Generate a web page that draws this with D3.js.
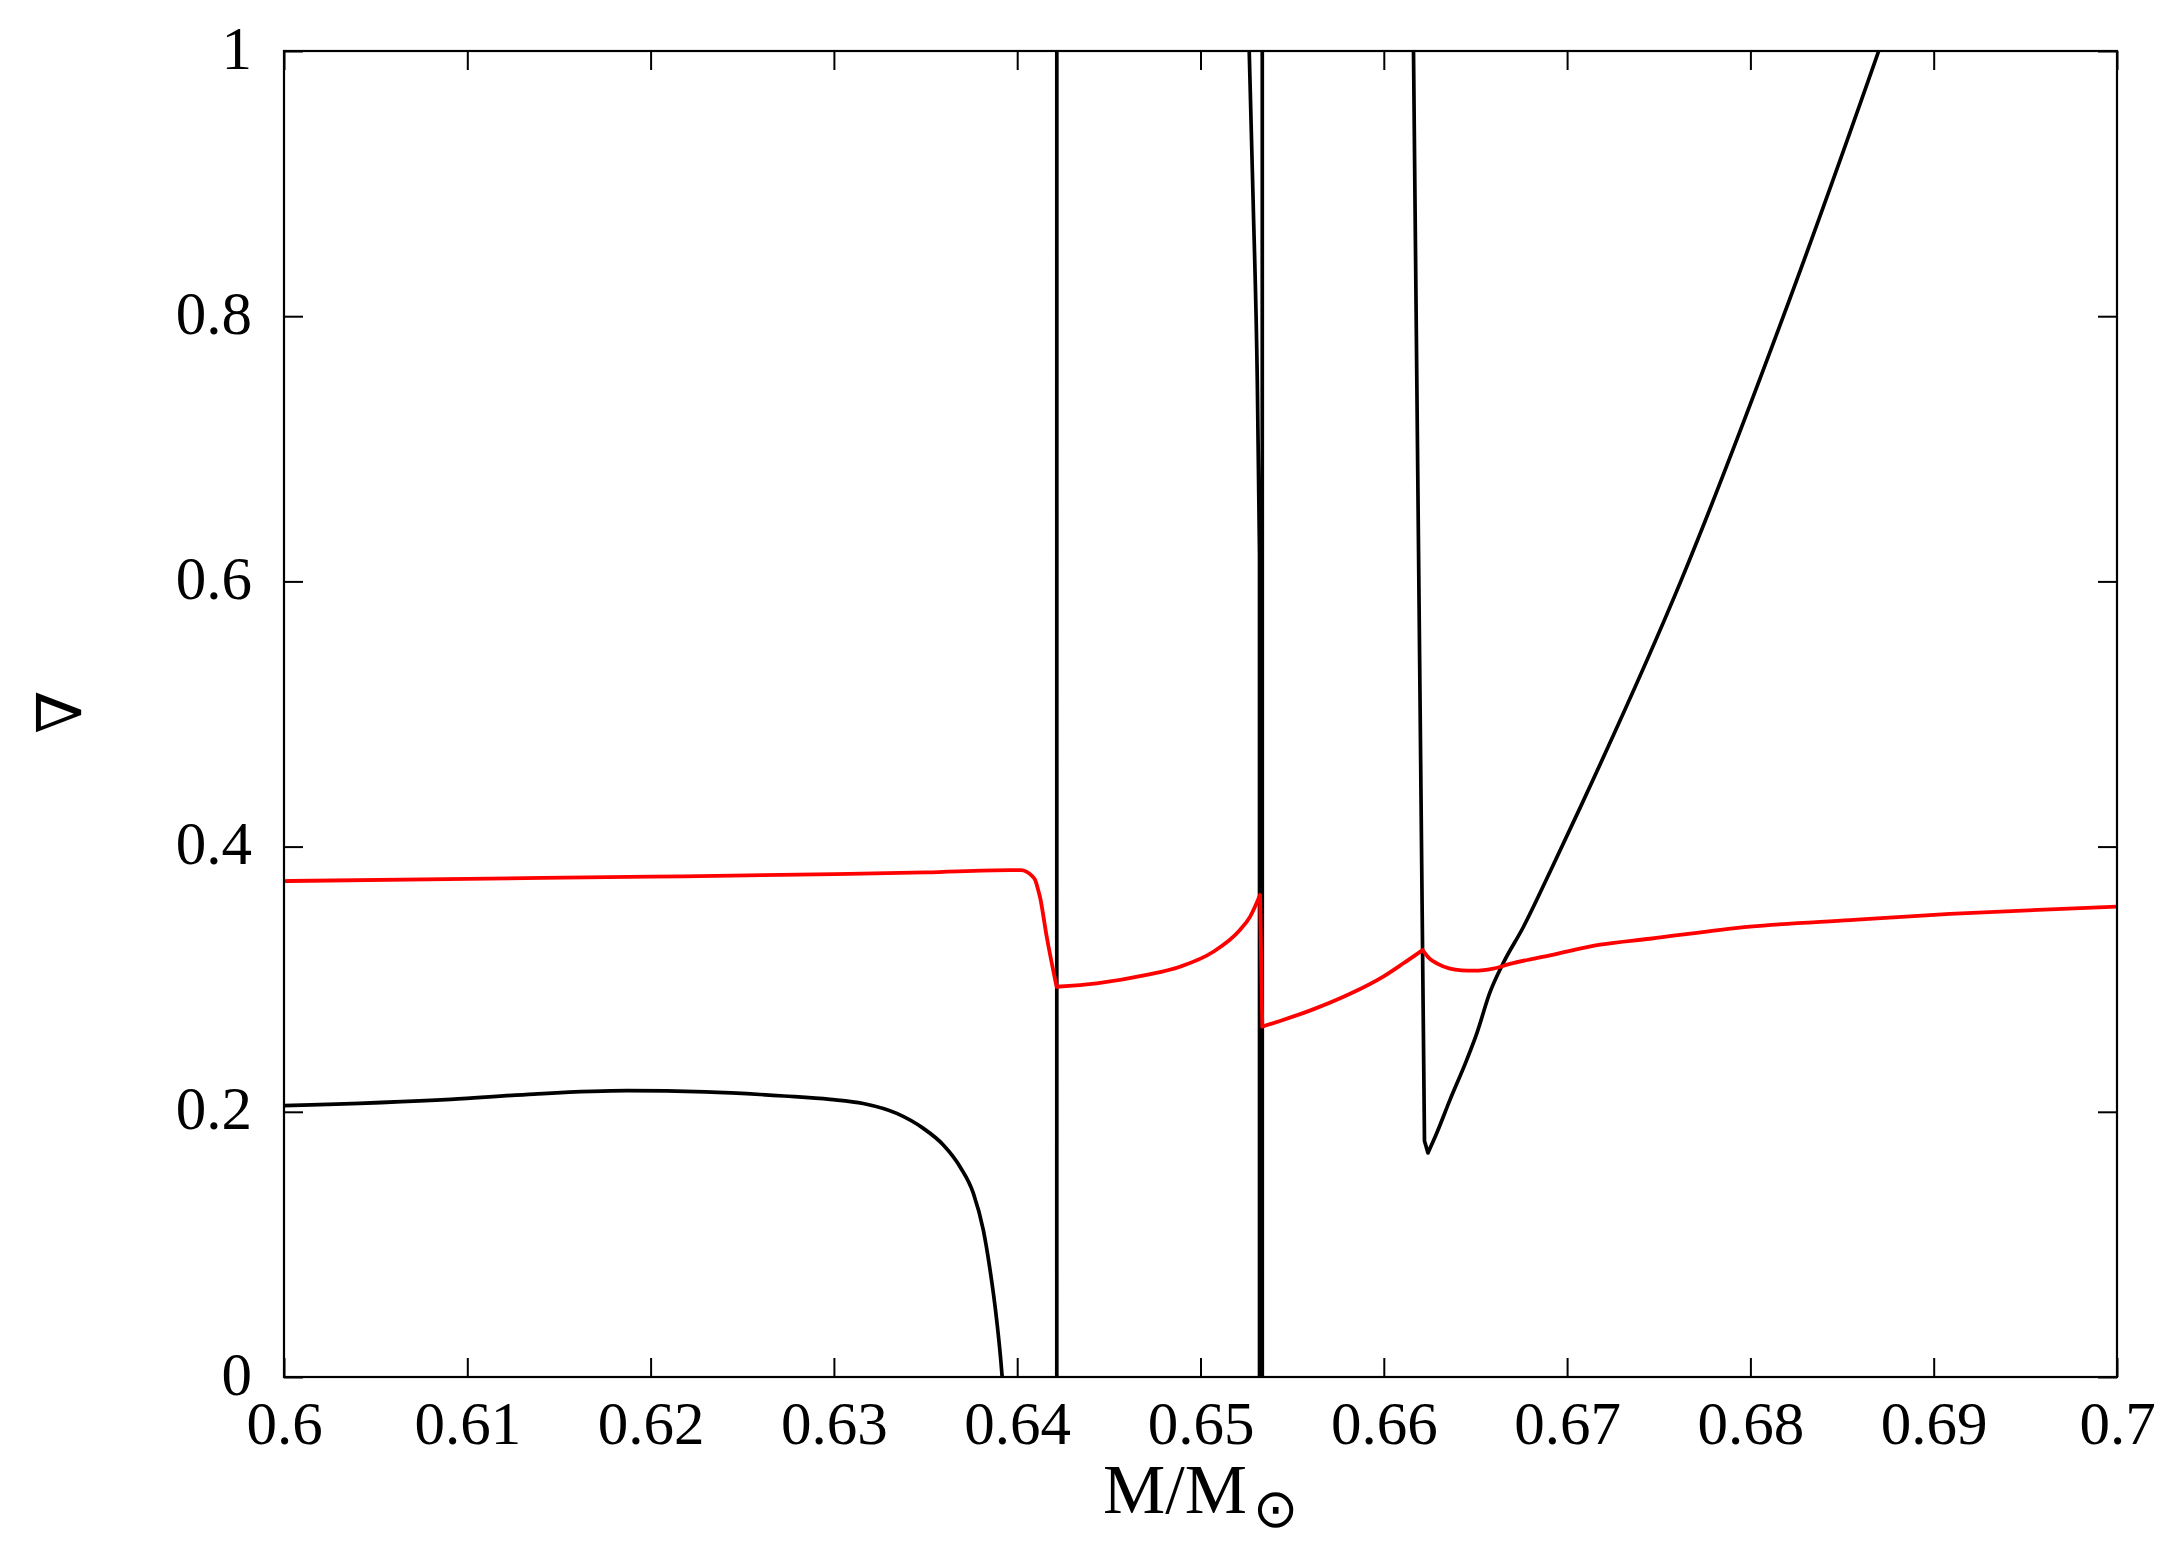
<!DOCTYPE html>
<html>
<head>
<meta charset="utf-8">
<script src="https://cdn.jsdelivr.net/npm/d3@7"></script>
<style>
  html, body { margin: 0; padding: 0; background: #fff; }
  svg { display: block; }
</style>
</head>
<body>
<svg id="chart" width="2174" height="1547"></svg>
<script>
// ---------- DATA ----------
const xTicks = [0.6, 0.61, 0.62, 0.63, 0.64, 0.65, 0.66, 0.67, 0.68, 0.69, 0.7];
const xTickLabels = ["0.6", "0.61", "0.62", "0.63", "0.64", "0.65", "0.66", "0.67", "0.68", "0.69", "0.7"];
const yTicks = [0, 0.2, 0.4, 0.6, 0.8, 1];
const yTickLabels = ["0", "0.2", "0.4", "0.6", "0.8", "1"];

// red curve (adiabatic gradient)
const redMass = [0.6, 0.61, 0.62, 0.63, 0.635, 0.6396, 0.6402, 0.6405, 0.6408, 0.64098, 0.64115, 0.64124,
  0.64161, 0.64215, 0.64434, 0.64706, 0.64888, 0.6507, 0.65215, 0.6527, 0.65325, 0.65337, 0.65434,
  0.656, 0.65816, 0.65997, 0.66107, 0.66212, 0.6625, 0.66289, 0.66361, 0.66425, 0.66488, 0.66545,
  0.66597, 0.66688, 0.668, 0.66907, 0.6718, 0.67452, 0.67998, 0.68543, 0.69089, 0.69635, 0.7];
const redGrad = [0.374, 0.3757, 0.3773, 0.3792, 0.3805, 0.3823, 0.3822, 0.3811, 0.378, 0.3748, 0.367, 0.3622,
  0.332, 0.2943, 0.2969, 0.3032, 0.3094, 0.3207, 0.3371, 0.347, 0.3635, 0.2642, 0.2685,
  0.2765, 0.289, 0.302, 0.312, 0.322, 0.3155, 0.312, 0.308, 0.3067, 0.3064, 0.3068,
  0.308, 0.3115, 0.315, 0.318, 0.326, 0.3305, 0.3396, 0.3446, 0.3492, 0.3527, 0.3547];
// masses where the red curve has a sharp corner
const redCorners = [0.64215, 0.65325, 0.65337, 0.66212];

// black curve (radiative gradient), values outside [0,1] run off the frame
const blackMass = [0.6, 0.6091, 0.61364, 0.61871, 0.623, 0.62728, 0.62979, 0.6316, 0.63343, 0.63488,
  0.63597, 0.63688, 0.63761, 0.63815, 0.63852, 0.63888, 0.63915, 0.6394, 0.64, 0.6421, 0.64222,
  0.6475, 0.6524, 0.65262, 0.65287, 0.6531, 0.65322, 0.65328, 0.65336, 0.65338, 0.6575, 0.6613,
  0.66162, 0.66222, 0.66241, 0.66289, 0.66361, 0.66452, 0.66507, 0.66579, 0.66651, 0.6676,
  0.66907, 0.6707, 0.6762, 0.6818, 0.687, 0.69];
const blackGrad = [0.2046, 0.2094, 0.2134, 0.2159, 0.215, 0.2119, 0.2094, 0.2063, 0.1988, 0.1875,
  0.175, 0.1586, 0.1385, 0.1109, 0.0807, 0.043, 0.005, -0.05, -1, -50, 50,
  50, 5, 1.02, 0.8876, 0.75, 0.62, -50, -50, 50, 50, 2,
  1.0, 0.178, 0.169, 0.184, 0.209, 0.239, 0.259, 0.29, 0.312, 0.339,
  0.381, 0.429, 0.6, 0.8, 1.0, 1.12];
// masses where the black curve has a sharp corner
const blackCorners = [0.64, 0.6421, 0.64222, 0.65262, 0.65322, 0.65328, 0.65336, 0.65338, 0.66162, 0.66222, 0.66241];

// ---------- CHART ----------
const W = 2174, H = 1547;
const margin = { left: 284, right: W - 2117, top: 51, bottom: H - 1377 };
const iw = W - margin.left - margin.right;
const ih = H - margin.top - margin.bottom;

const svg = d3.select("#chart");
const g = svg.append("g").attr("transform", `translate(${margin.left},${margin.top})`);

const x = d3.scaleLinear().domain([0.6, 0.7]).range([0, iw]);
const y = d3.scaleLinear().domain([0, 1]).range([ih, 0]);

svg.append("defs").append("clipPath").attr("id", "plotclip")
  .append("rect").attr("x", 0).attr("y", 0).attr("width", iw).attr("height", ih);

const serif = "'Liberation Serif', 'Times New Roman', serif";
const tickFont = 61;
const TICK = 19;

// axes
const xAxisB = d3.axisBottom(x).tickValues(xTicks)
  .tickFormat((d, i) => xTickLabels[i]).tickSizeInner(-TICK).tickSizeOuter(0).tickPadding(24);
const xAxisT = d3.axisTop(x).tickValues(xTicks).tickFormat("").tickSizeInner(-TICK).tickSizeOuter(0);
const yAxisL = d3.axisLeft(y).tickValues(yTicks)
  .tickFormat((d, i) => yTickLabels[i]).tickSizeInner(-TICK).tickSizeOuter(0).tickPadding(32);
const yAxisR = d3.axisRight(y).tickValues(yTicks).tickFormat("").tickSizeInner(-TICK).tickSizeOuter(0);

function styleAxis(sel) {
  sel.select(".domain").remove();
  sel.selectAll(".tick line").attr("stroke", "#000").attr("stroke-width", 2);
  sel.selectAll(".tick text").attr("fill", "#000")
    .style("font-family", serif).style("font-size", tickFont + "px");
}

g.append("g").attr("transform", `translate(0,${ih})`).call(xAxisB).call(styleAxis);
g.append("g").call(xAxisT).call(styleAxis);
g.append("g").call(yAxisL).call(styleAxis)
  .selectAll(".tick text").attr("dy", "0.28em");
g.append("g").attr("transform", `translate(${iw},0)`).call(yAxisR).call(styleAxis);

// curves: smooth between corners, sharp at corners
const gen = d3.line().x(d => x(d[0])).y(d => y(d[1])).curve(d3.curveMonotoneX);
function piecewisePath(masses, values, corners) {
  const pieces = [];
  let cur = [];
  masses.forEach((m, i) => {
    const p = [m, values[i]];
    cur.push(p);
    if (corners.includes(m)) { pieces.push(cur); cur = [p]; }
  });
  if (cur.length > 1) pieces.push(cur);
  return pieces.map(p => gen(p)).join("");
}

const plot = g.append("g").attr("clip-path", "url(#plotclip)");
plot.append("path")
  .attr("d", piecewisePath(blackMass, blackGrad, blackCorners))
  .attr("fill", "none").attr("stroke", "#000")
  .attr("stroke-width", 3.7).attr("stroke-linejoin", "round").attr("stroke-linecap", "round");
plot.append("path")
  .attr("d", piecewisePath(redMass, redGrad, redCorners))
  .attr("fill", "none").attr("stroke", "#ff0000")
  .attr("stroke-width", 3.8).attr("stroke-linejoin", "round").attr("stroke-linecap", "round");

// frame
g.append("rect").attr("x", 0).attr("y", 0).attr("width", iw).attr("height", ih)
  .attr("fill", "none").attr("stroke", "#000").attr("stroke-width", 2.2);

// x axis label: M/M_sun
const xl = svg.append("text")
  .attr("x", 1103).attr("y", 1513)
  .attr("text-anchor", "start")
  .style("font-family", serif).style("font-size", "70px").attr("fill", "#000");
xl.append("tspan").text("M/M");
xl.append("tspan").attr("dy", 14).attr("dx", 6)
  .style("font-family", "'DejaVu Sans', sans-serif").style("font-size", "54px").text("⊙");

// y axis label: nabla, rotated
svg.append("text")
  .attr("transform", "translate(81,712) rotate(-90)")
  .attr("text-anchor", "middle")
  .style("font-family", "'DejaVu Serif', serif").style("font-size", "62px").attr("fill", "#000")
  .text("∇");
</script>
</body>
</html>
